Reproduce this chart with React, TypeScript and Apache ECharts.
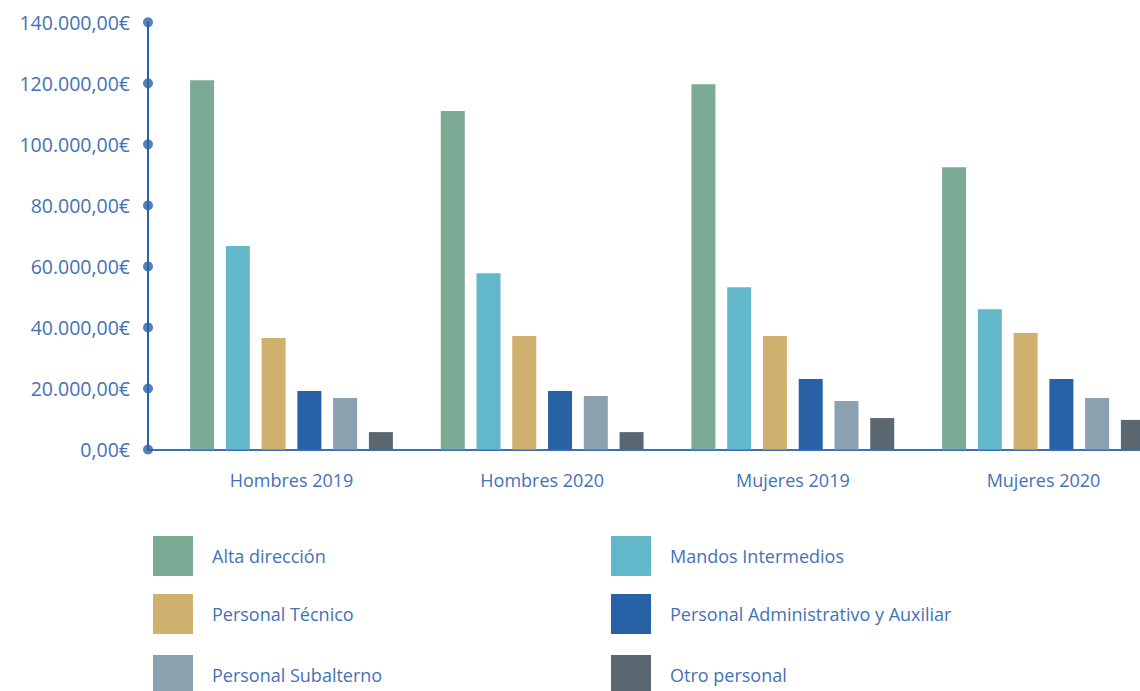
import React, { useEffect, useRef } from "react";
import * as echarts from "echarts";

const categories = ["Hombres 2019", "Hombres 2020", "Mujeres 2019", "Mujeres 2020"];
const seriesNames = [
  "Alta dirección",
  "Mandos Intermedios",
  "Personal Técnico",
  "Personal Administrativo y Auxiliar",
  "Personal Subalterno",
  "Otro personal",
];
const altaDireccion = [121000, 110900, 119700, 92500];
const mandosIntermedios = [66700, 57800, 53200, 46000];
const personalTecnico = [36500, 37200, 37200, 38200];
const personalAdministrativo = [19200, 19200, 23100, 23100];
const personalSubalterno = [16900, 17500, 15900, 16900];
const otroPersonal = [5700, 5700, 10300, 9700];
const yTicks = [0, 20000, 40000, 60000, 80000, 100000, 120000, 140000];

const seriesValues = [
  altaDireccion,
  mandosIntermedios,
  personalTecnico,
  personalAdministrativo,
  personalSubalterno,
  otroPersonal,
];
const colors = ["#7bab94", "#62b7cb", "#cfb06f", "#2961a6", "#8ca1af", "#5a6670"];

const FONT = "'Open Sans', 'Noto Sans', sans-serif";
const TEXT_COLOR = "#4472b5";
const AXIS_COLOR = "#2a62a9";

function formatEuro(v: number): string {
  const intPart = Math.round(v).toString().replace(/\B(?=(\d{3})+(?!\d))/g, ".");
  return intPart + ",00€";
}

// legend slot layout: column x, row y (swatch top-left)
const legendCols = [153, 611];
const legendRows = [536, 594, 655];

export default function App() {
  const ref = useRef<HTMLDivElement>(null);
  useEffect(() => {
    if (!ref.current) return;
    const chart = echarts.init(ref.current, undefined, { renderer: "svg" });
    const top = 22.3;
    const height = 427.2;
    const legends = seriesNames.map((name, i) => ({
      orient: "horizontal",
      left: legendCols[i % 2],
      top: legendRows[Math.floor(i / 2)],
      padding: 0,
      itemWidth: 40,
      itemHeight: 40,
      icon: "rect",
      selectedMode: false,
      data: [name],
      textStyle: {
        fontFamily: FONT,
        fontSize: 18,
        color: TEXT_COLOR,
        padding: [0, 0, 0, 14],
      },
    }));
    chart.setOption({
      animation: false,
      color: colors,
      grid: [
        { left: 148, right: 0, top, height },
        { left: 291.5, right: 96.5, top, height },
      ],
      legend: legends,
      xAxis: [
        {
          type: "value",
          gridIndex: 0,
          min: 0,
          max: 1,
          axisLine: { show: true, onZero: false, lineStyle: { color: "#3d70b8", width: 2 } },
          axisTick: { show: false },
          axisLabel: { show: false },
          splitLine: { show: false },
        },
        {
          type: "category",
          gridIndex: 1,
          data: categories,
          boundaryGap: false,
          axisLine: { show: false },
          axisTick: { show: false },
          axisLabel: {
            margin: 21,
            fontFamily: FONT,
            fontSize: 18,
            color: TEXT_COLOR,
          },
        },
      ],
      yAxis: [
        {
          type: "value",
          gridIndex: 0,
          min: 0,
          max: 140000,
          interval: 20000,
          axisLine: { show: true, lineStyle: { color: AXIS_COLOR, width: 2 } },
          axisTick: { show: false },
          splitLine: { show: false },
          axisLabel: {
            margin: 18,
            fontFamily: FONT,
            fontSize: 19.5,
            color: TEXT_COLOR,
            formatter: (v: number) => formatEuro(v),
          },
        },
        {
          type: "value",
          gridIndex: 1,
          min: 0,
          max: 140000,
          interval: 20000,
          show: false,
          splitLine: { show: false },
        },
      ],
      series: [
        ...seriesNames.map((name, i) => ({
          name,
          type: "bar",
          xAxisIndex: 1,
          yAxisIndex: 1,
          barWidth: 24,
          barGap: "49%",
          clip: false,
          data: seriesValues[i],
          itemStyle: { color: colors[i] },
        })),
        {
          type: "scatter",
          xAxisIndex: 0,
          yAxisIndex: 0,
          symbol: "circle",
          symbolSize: 10,
          clip: false,
          silent: true,
          z: 5,
          itemStyle: { color: AXIS_COLOR },
          data: yTicks.map((t) => [0, t]),
        },
      ],
    });
    return () => chart.dispose();
  }, []);
  return (
    <div
      ref={ref}
      style={{ position: "fixed", left: 0, top: 0, width: 1140, height: 691, background: "#fff" }}
    />
  );
}
